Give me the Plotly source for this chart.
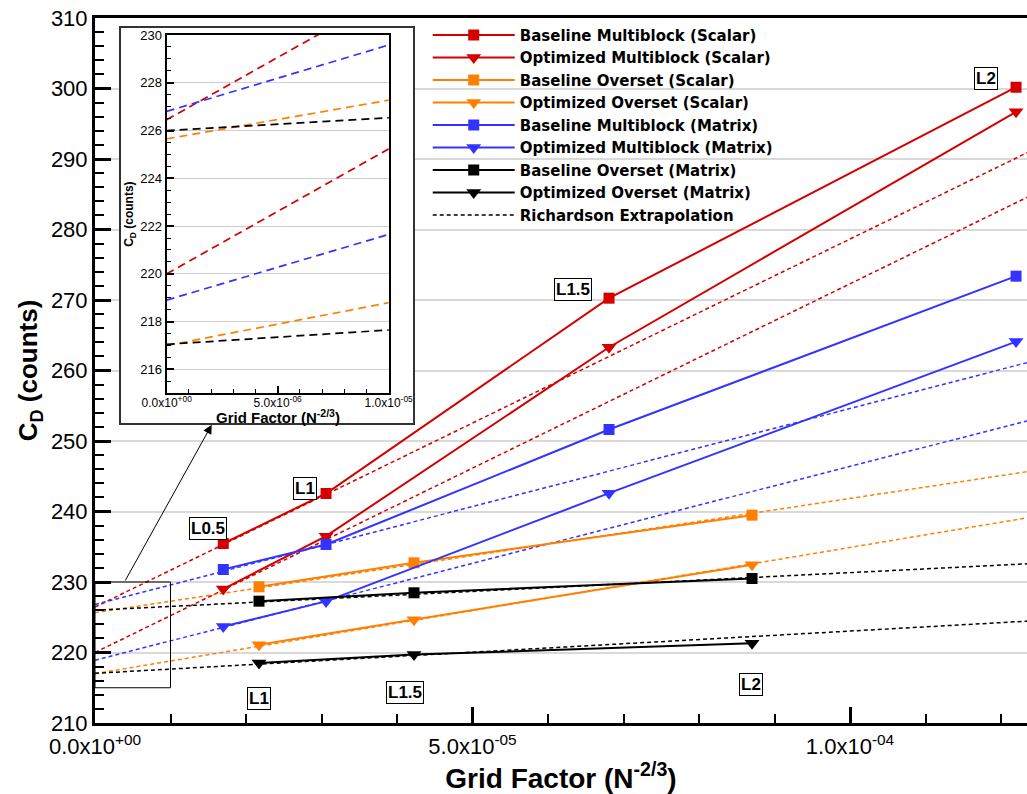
import numpy as np
import plotly.graph_objects as go

# ---------------- data ----------------
grid_mb = [1.699e-5, 3.060e-5, 6.808e-5, 1.2199e-4]      # multiblock L0.5, L1, L1.5, L2
grid_ov = [2.172e-5, 4.225e-5, 8.702e-5]                 # overset L1, L1.5, L2
labels_mb = ["L0.5", "L1", "L1.5", "L2"]
labels_ov = ["L1", "L1.5", "L2"]

cd_base_mb_scalar = [235.46, 242.55, 270.26, 300.18]
cd_opt_mb_scalar = [229.0, 236.5, 263.3, 296.7]
cd_base_ov_scalar = [229.32, 232.72, 239.48]
cd_opt_ov_scalar = [221.1, 224.65, 232.45]
cd_base_mb_matrix = [231.77, 235.32, 251.63, 273.38]
cd_opt_mb_matrix = [223.7, 227.25, 242.6, 264.1]
cd_base_ov_matrix = [227.28, 228.47, 230.5]
cd_opt_ov_matrix = [218.5, 219.7, 221.3]

series_names = [
    "Baseline Multiblock (Scalar)", "Optimized Multiblock (Scalar)",
    "Baseline Overset (Scalar)", "Optimized Overset (Scalar)",
    "Baseline Multiblock (Matrix)", "Optimized Multiblock (Matrix)",
    "Baseline Overset (Matrix)", "Optimized Overset (Matrix)",
]
# Richardson extrapolation: extrapolated C_D at zero grid factor, and slope (counts per unit grid factor)
richardson_cd0 = [226.45, 220.0, 225.65, 217.0, 226.8, 218.9, 226.0, 217.05]
richardson_slope = [5.22e5, 5.23e5, 1.62e5, 1.79e5, 2.78e5, 2.75e5, 0.533e5, 0.599e5]

main_x_ticks = [0.0, 5.0e-5, 1.0e-4]
main_x_ticktext = ["0.0x10<sup>+00</sup>", "5.0x10<sup>-05</sup>", "1.0x10<sup>-04</sup>"]
inset_x_ticks = [0.0, 5.0e-6, 1.0e-5]
inset_x_ticktext = ["0.0x10<sup>+00</sup>", "5.0x10<sup>-06</sup>", "1.0x10<sup>-05</sup>"]

# ---------------- styling ----------------
RED = "#d40000"
ORANGE = "#ff8000"
BLUE = "#3333ff"
BLACK = "#000000"
colors = [RED, RED, ORANGE, ORANGE, BLUE, BLUE, BLACK, BLACK]
symbols = ["square", "triangle-down"] * 4
FONT = "Liberation Sans, Arial, Helvetica, sans-serif"
WIDEFONT = "DejaVu Sans, Verdana, sans-serif"

x_range = [0.0, 1.2344e-4]
y_range = [210, 310]
inset_x_range = [0.0, 1.0e-5]
inset_y_range = [215, 230]

series = [cd_base_mb_scalar, cd_opt_mb_scalar, cd_base_ov_scalar, cd_opt_ov_scalar,
          cd_base_mb_matrix, cd_opt_mb_matrix, cd_base_ov_matrix, cd_opt_ov_matrix]
grids = [grid_mb, grid_mb, grid_ov, grid_ov, grid_mb, grid_mb, grid_ov, grid_ov]

fig = go.Figure()

# Richardson lines on main axes
rx = np.array(x_range)
for i in range(8):
    ry = richardson_cd0[i] + richardson_slope[i] * rx
    show = (i == 6)
    fig.add_trace(go.Scatter(
        x=rx, y=ry, mode="lines", xaxis="x", yaxis="y",
        line=dict(color=colors[i], width=1.5, dash="4px,3px"),
        name="Richardson Extrapolation", showlegend=show, legendrank=2000,
        hoverinfo="skip"))

# data series
for i in range(8):
    fig.add_trace(go.Scatter(
        x=grids[i], y=series[i], mode="lines+markers", xaxis="x", yaxis="y",
        name=series_names[i], legendrank=1000 + i,
        line=dict(color=colors[i], width=2),
        marker=dict(symbol=symbols[i], size=11 if symbols[i] == "square" else 13,
                    color=colors[i], line=dict(width=0))))

# frame subplot (empty, white background covering the main plot)
fig.add_trace(go.Scatter(x=[None], y=[None], xaxis="x2", yaxis="y2", showlegend=False,
                         hoverinfo="skip"))

# inset Richardson lines
for i in range(8):
    ry = richardson_cd0[i] + richardson_slope[i] * rx
    fig.add_trace(go.Scatter(
        x=rx, y=ry, mode="lines", xaxis="x3", yaxis="y3",
        line=dict(color=colors[i], width=1.7, dash="8px,5px"),
        showlegend=False, hoverinfo="skip"))

# grid-level labels
label_offsets_mb = [(-15, 15), (-21, 5), (-36, 9), (-30, 9)]
label_offsets_ov = [(0, -35), (-9, -38), (-1, -41)]
ann_style = dict(showarrow=False, font=dict(family=FONT, size=17, color="black"),
                 bgcolor="white", bordercolor="black", borderwidth=1, borderpad=1)
annotations = []
for k, lab in enumerate(labels_mb):
    annotations.append(dict(x=grid_mb[k], y=cd_base_mb_scalar[k], xref="x", yref="y",
                            text="<b>%s</b>" % lab, xshift=label_offsets_mb[k][0],
                            yshift=label_offsets_mb[k][1], **ann_style))
for k, lab in enumerate(labels_ov):
    annotations.append(dict(x=grid_ov[k], y=cd_opt_ov_matrix[k], xref="x", yref="y",
                            text="<b>%s</b>" % lab, xshift=label_offsets_ov[k][0],
                            yshift=label_offsets_ov[k][1], **ann_style))
# inset x-axis title
annotations.append(dict(x=0.1961, y=0.4352, xref="paper", yref="paper",
                        text="<b>Grid Factor (N<sup>-2/3</sup>)</b>", showarrow=False,
                        font=dict(family=FONT, size=15, color="black"),
                        xanchor="center", yanchor="middle"))
# arrow from zoom box to inset
annotations.append(dict(x=1.546e-5, y=252.3, xref="x", yref="y",
                        ax=3.9e-6, ay=inset_y_range[1], axref="x", ayref="y",
                        text="", showarrow=True, arrowhead=2, arrowsize=1.8,
                        arrowwidth=1, arrowcolor="black"))

shapes = [dict(type="rect", xref="x", yref="y",
               x0=inset_x_range[0], x1=inset_x_range[1],
               y0=inset_y_range[0], y1=inset_y_range[1],
               line=dict(color="black", width=1), layer="above")]

main_minor_x = np.arange(0, 1.3e-4, 1e-5).tolist()
inset_minor_x = np.arange(0, 1.05e-5, 1e-6).tolist()

fig.update_layout(
    width=1027, height=794,
    margin=dict(l=95, r=0, t=18, b=71, autoexpand=False),
    paper_bgcolor="white", plot_bgcolor="white",
    font=dict(family=FONT, color="black"),
    showlegend=True,
    legend=dict(x=0.357, y=0.999, xanchor="left", yanchor="top",
                bgcolor="rgba(0,0,0,0)", borderwidth=0,
                itemwidth=82,
                font=dict(family=WIDEFONT, size=15, color="black", weight="bold"),
                tracegroupgap=0),
    xaxis=dict(domain=[0, 1], range=x_range, showgrid=False, zeroline=False,
               automargin=False,
               showline=True, linewidth=3, linecolor="black", mirror=True,
               ticks="inside", ticklen=16, tickwidth=3, tickcolor="black",
               tickmode="array", tickvals=main_x_ticks, ticktext=main_x_ticktext,
               tickfont=dict(family=FONT, size=22), ticklabelstandoff=2,
               minor=dict(tickvals=main_minor_x, ticks="inside", ticklen=9,
                          tickwidth=1.5, tickcolor="black"),
               title=dict(text="<b>Grid Factor (N<sup>-2/3</sup>)</b>",
                          font=dict(family=FONT, size=28), standoff=4)),
    yaxis=dict(domain=[0, 1], range=y_range, showgrid=True, gridcolor="#d9d9d9",
               gridwidth=1.5, zeroline=False, automargin=False,
               showline=True, linewidth=3, linecolor="black",
               ticks="inside", ticklen=16, tickwidth=3, tickcolor="black",
               dtick=10, tick0=0, tickfont=dict(family=FONT, size=22),
               minor=dict(dtick=2, ticks="inside", ticklen=9, tickwidth=1.5,
                          tickcolor="black", showgrid=False),
               title=dict(text="<b>C<sub>D</sub> (counts)</b>",
                          font=dict(family=FONT, size=26), standoff=6)),
    xaxis2=dict(domain=[0.0276, 0.3415], anchor="y2", range=[0, 1], automargin=False,
                showgrid=False, zeroline=False, showticklabels=False, ticks="",
                showline=True, linewidth=1.5, linecolor="#333333", mirror=True),
    yaxis2=dict(domain=[0.4255, 0.9854], anchor="x2", range=[0, 1], automargin=False,
                showgrid=False, zeroline=False, showticklabels=False, ticks="",
                showline=True, linewidth=1.5, linecolor="#333333", mirror=True),
    xaxis3=dict(domain=[0.0769, 0.3151], anchor="y3", range=inset_x_range,
                showgrid=False, zeroline=False, automargin=False,
                showline=True, linewidth=2, linecolor="black", mirror=True,
                ticks="inside", ticklen=7, tickwidth=2, tickcolor="black",
                tickmode="array", tickvals=inset_x_ticks, ticktext=inset_x_ticktext,
                tickfont=dict(family=FONT, size=12), ticklabelstandoff=-3,
                minor=dict(tickvals=inset_minor_x, ticks="inside", ticklen=4,
                           tickwidth=1, tickcolor="black")),
    yaxis3=dict(domain=[0.4677, 0.9759], anchor="x3", range=inset_y_range,
                showgrid=True, gridcolor="#d0d0d0", gridwidth=1, zeroline=False,
                automargin=False,
                showline=True, linewidth=2, linecolor="black", mirror=True,
                ticks="inside", ticklen=7, tickwidth=2, tickcolor="black",
                dtick=2, tick0=0, tickfont=dict(family=FONT, size=13),
                minor=dict(dtick=0.5, ticks="inside", ticklen=4, tickwidth=1,
                           tickcolor="black", showgrid=False),
                title=dict(text="<b>C<sub>D</sub> (counts)</b>",
                           font=dict(family=FONT, size=12), standoff=4)),
    annotations=annotations,
    shapes=shapes,
)

fig.write_html("out.html")
